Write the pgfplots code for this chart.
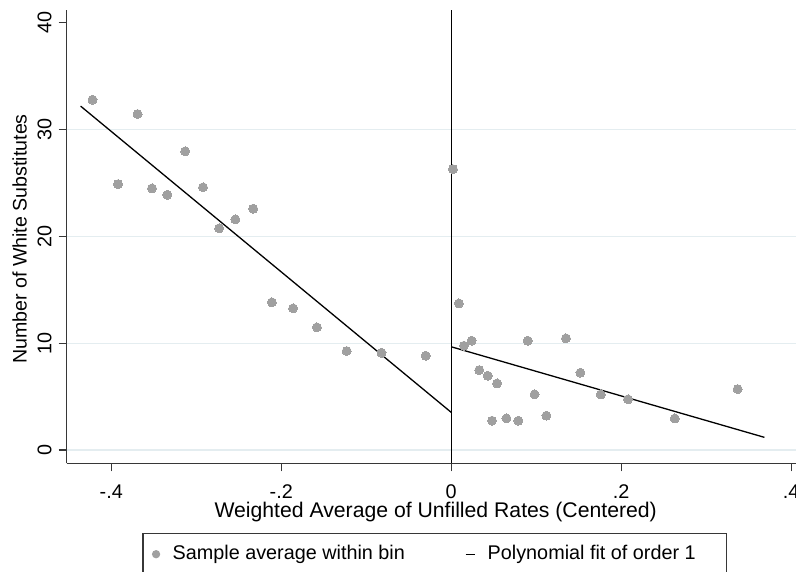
\documentclass[border=0pt]{standalone}
\usepackage{fontspec}
\setmainfont{Liberation Sans}
\usepackage{pgfplots}
\pgfplotsset{compat=1.18}
\definecolor{dotgray}{RGB}{160,160,160}
\definecolor{gridc}{RGB}{228,237,240}
\definecolor{axc}{RGB}{55,55,55}

\begin{document}
\fontsize{19.8bp}{23.8bp}\selectfont
\begin{tikzpicture}
\begin{axis}[
    scale only axis,
    width=738.1bp, height=453.4bp,
    xmin=-0.4524, xmax=0.416,
    ymin=-1.25, ymax=41.2,
    axis x line*=bottom, axis y line*=left,
    axis line style={-, axc, line width=1.2bp},
    xtick={-0.4,-0.2,0,0.2,0.4},
    xticklabels={-.4,-.2,0,.2,.4},
    ytick={0,10,20,30},
    yticklabels={0,10,20,30},
    extra y ticks={40},
    extra y tick labels={40},
    extra tick style={grid=none},
    ymajorgrids,
    grid style={gridc, line width=1.2bp},
    tick align=outside,
    major tick length=8bp,
    tick style={axc, line width=1.2bp},
    xtick pos=left, ytick pos=left,
    tick label style={font=\fontsize{19.8bp}{23.8bp}\selectfont},
    xticklabel style={inner sep=0pt, anchor=north, yshift=-13.5bp},
    yticklabel style={inner sep=0pt, rotate=90, anchor=south, yshift=7bp},
    xlabel={Weighted Average of Unfilled Rates (Centered)},
    ylabel={Number of White Substitutes},
    xlabel style={at={(rel axis cs:0.4999,-0.1191)}, anchor=base, inner sep=0pt,
        font=\fontsize{21.2bp}{25bp}\selectfont},
    ylabel style={at={(rel axis cs:-0.0542,0.495)}, rotate=0, anchor=base, inner sep=0pt,
        font=\fontsize{19.6bp}{23.6bp}\selectfont},
    legend columns=2,
    legend style={
        at={(0.4988,-0.1538)}, anchor=north,
        draw=axc, line width=1.2bp,
        inner xsep=9bp, inner ysep=11.8bp,
        font=\fontsize{19.8bp}{23.8bp}\selectfont,
        nodes={inner sep=0pt},
        /tikz/every odd column/.append style={column sep=12.5bp},
        /tikz/every even column/.append style={column sep=60bp},
    },
    legend cell align=left,
]

% cutoff line at zero
\addplot[black, line width=1.3bp, forget plot] coordinates {(0,-1.25) (0,41.2)};

% binned sample averages
\addplot[only marks, mark=*, mark size=4.5bp, color=dotgray,
    mark options={draw=dotgray, fill=dotgray, line width=0pt},
    legend image code/.code={\fill[dotgray] (0bp,0bp) circle (3.5bp);}]
coordinates {
    (-0.422,32.8) (-0.392,24.9) (-0.369,31.46) (-0.352,24.5) (-0.334,23.9)
    (-0.313,27.97) (-0.292,24.6) (-0.273,20.76) (-0.254,21.6) (-0.233,22.6)
    (-0.211,13.83) (-0.186,13.27) (-0.158,11.49) (-0.123,9.27) (-0.082,9.11)
    (-0.030,8.83)
    (0.002,26.3) (0.009,13.73) (0.015,9.77) (0.024,10.24) (0.033,7.49)
    (0.043,6.96) (0.048,2.75) (0.054,6.24) (0.065,2.96) (0.079,2.75)
    (0.090,10.24) (0.098,5.21) (0.112,3.22) (0.135,10.46) (0.152,7.24)
    (0.176,5.21) (0.208,4.75) (0.263,2.96) (0.337,5.71)
};

% linear fits on each side
\addplot[black, line width=1.3bp,
    legend image code/.code={\draw[black, line width=1.3bp] (0bp,0bp) -- (9bp,0bp);}]
coordinates {(-0.436,32.2) (0,3.53)};
\addplot[black, line width=1.3bp, forget plot]
coordinates {(0,9.67) (0.3685,1.19)};

\legend{Sample average within bin, Polynomial fit of order 1\hspace*{22bp}}

\coordinate (bbsw) at (rel axis cs:-0.09037,-0.23759);
\coordinate (bbne) at (rel axis cs:0.98808,1.02206);
\end{axis}
\pgfresetboundingbox
\useasboundingbox (bbsw) rectangle (bbne);
\end{tikzpicture}
\end{document}
